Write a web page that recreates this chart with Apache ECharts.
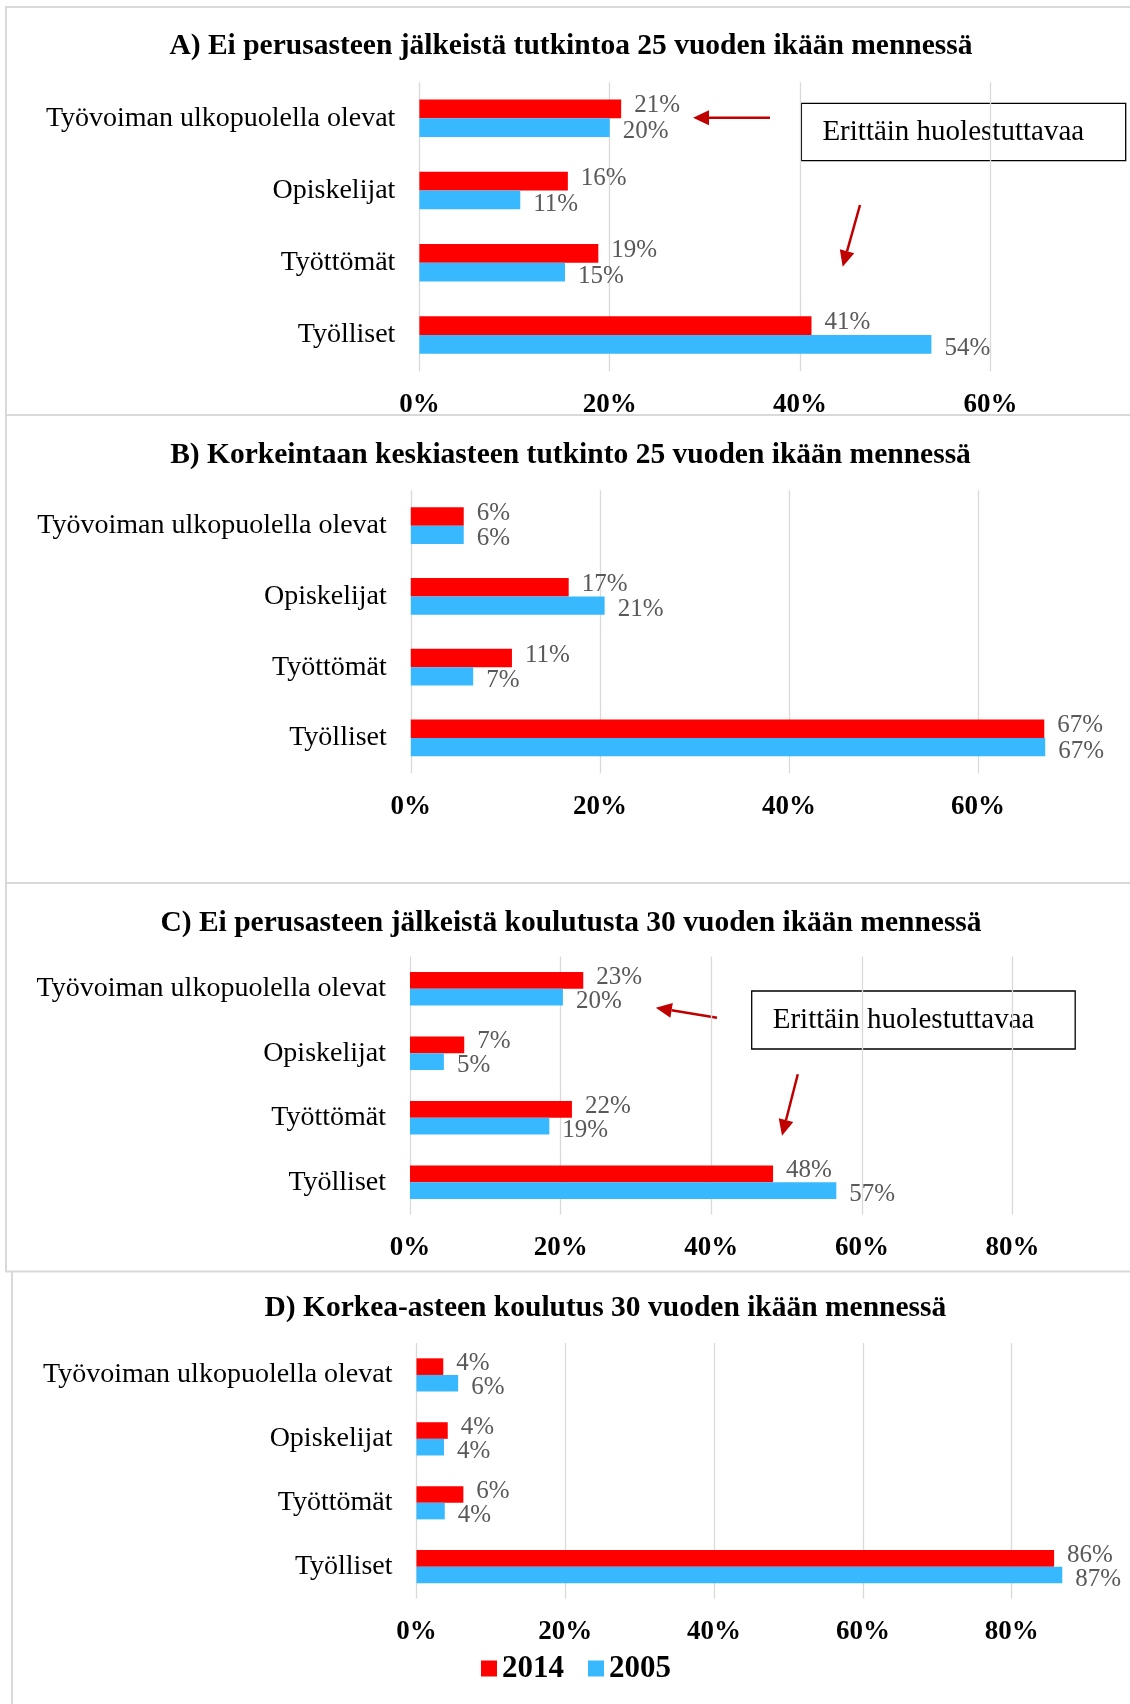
<!DOCTYPE html>
<html>
<head>
<meta charset="utf-8">
<title>Koulutus ja pääasiallinen toiminta</title>
<script src="https://cdn.jsdelivr.net/npm/echarts@6/dist/echarts.min.js"></script>
<style>
  html, body { margin: 0; padding: 0; background: #fff; }
  #main { width: 1130px; height: 1704px; }
</style>
</head>
<body>
<div id="main"></div>
<script>
// luokat ja vuodet
var categories = ['Työvoiman ulkopuolella olevat', 'Opiskelijat', 'Työttömät', 'Työlliset'];
var years = ['2014', '2005'];

// A) Ei perusasteen jälkeistä tutkintoa 25 v
var a2014 = [21.2, 15.6, 18.8, 41.2];
var a2005 = [20.0, 10.6, 15.3, 53.8];
// B) Korkeintaan keskiasteen tutkinto 25 v
var b2014 = [5.6, 16.7, 10.7, 67.0];
var b2005 = [5.6, 20.5, 6.6, 67.1];
// C) Ei perusasteen jälkeistä koulutusta 30 v
var c2014 = [23.0, 7.2, 21.5, 48.2];
var c2005 = [20.3, 4.5, 18.5, 56.6];
// D) Korkea-asteen koulutus 30 v
var d2014 = [3.6, 4.2, 6.3, 85.7];
var d2005 = [5.6, 3.7, 3.8, 86.8];

var titles = [
  'A) Ei perusasteen jälkeistä tutkintoa 25 vuoden ikään mennessä',
  'B) Korkeintaan keskiasteen tutkinto 25 vuoden ikään mennessä',
  'C) Ei perusasteen jälkeistä koulutusta 30 vuoden ikään mennessä',
  'D) Korkea-asteen koulutus 30 vuoden ikään mennessä'
];
var axisMax = [60, 80, 80, 100];
var tickStep = 20;
var noteText = 'Erittäin huolestuttavaa';

var values2014 = [a2014, b2014, c2014, d2014];
var values2005 = [a2005, b2005, c2005, d2005];

var FONT = "'Liberation Serif', 'Times New Roman', serif";
var RED = '#FF0000', BLUE = '#38B9FF', ARROW = '#C00000', BORDER = '#d9d9d9';

// paneelien sijainnit (px); B ja D jatkuvat kuvan oikean reunan yli
var boxes = [
  { left: 419.4, top: 82.2, width: 571, height: 289, tx: 571, ty: 46.7, lastLabel: true },
  { left: 410.8, top: 490.3, width: 756.4, height: 283, tx: 570.5, ty: 455, lastLabel: false },
  { left: 410, top: 956.5, width: 602.6, height: 258, tx: 571, ty: 923.3, lastLabel: true },
  { left: 416.5, top: 1343, width: 744, height: 255.6, tx: 605.4, ty: 1308.3, lastLabel: false }
];

var myChart = echarts.init(document.getElementById('main'));

var grids = [], xAxes = [], yAxes = [], series = [];
boxes.forEach(function (b, i) {
  grids.push({ left: b.left, top: b.top, width: b.width, height: b.height, outerBoundsMode: 'none' });
  xAxes.push({
    type: 'value', gridIndex: i, min: 0, max: axisMax[i], interval: tickStep,
    axisLine: { show: false }, axisTick: { show: false },
    splitLine: { show: true, lineStyle: { color: BORDER, width: 1.3 } },
    axisLabel: { formatter: '{value}%', showMaxLabel: b.lastLabel, color: '#000', fontFamily: FONT, fontWeight: 'bold', fontSize: 27, margin: 20 }
  });
  yAxes.push({
    type: 'category', gridIndex: i, data: categories, inverse: true,
    axisLine: { show: false }, axisTick: { show: false },
    axisLabel: { color: '#000', fontFamily: FONT, fontSize: 28, margin: 24 }
  });
  [values2014[i], values2005[i]].forEach(function (vals, k) {
    series.push({
      name: years[k], type: 'bar', xAxisIndex: i, yAxisIndex: i, data: vals,
      barGap: '0%', barCategoryGap: '48%',
      itemStyle: { color: k === 0 ? RED : BLUE },
      label: {
        show: true, position: 'right', distance: 13, color: '#595959',
        offset: k === 0 ? [0, -3] : [0, 4],
        fontFamily: FONT, fontSize: 25,
        formatter: function (p) { return Math.round(p.value) + '%'; }
      }
    });
  });
});

function arrow(x1, y1, x2, y2) {
  var dx = x2 - x1, dy = y2 - y1, len = Math.sqrt(dx * dx + dy * dy);
  var ux = dx / len, uy = dy / len, head = 16, hw = 7.5;
  var bx = x2 - ux * head, by = y2 - uy * head;
  return [
    { type: 'line', shape: { x1: x1, y1: y1, x2: bx, y2: by }, style: { stroke: ARROW, lineWidth: 2.5 } },
    { type: 'polygon', shape: { points: [[x2, y2], [bx - uy * hw, by + ux * hw], [bx + uy * hw, by - ux * hw]] }, style: { fill: ARROW } }
  ];
}
function hline(x1, x2, y) {
  return { type: 'line', shape: { x1: x1, y1: y, x2: x2, y2: y }, style: { stroke: BORDER, lineWidth: 2 } };
}
function vline(x, y1, y2) {
  return { type: 'line', shape: { x1: x, y1: y1, x2: x, y2: y2 }, style: { stroke: BORDER, lineWidth: 2 } };
}
function note(x, y, w, h) {
  return [
    { type: 'rect', shape: { x: x, y: y, width: w, height: h }, style: { fill: '#fff', stroke: '#000', lineWidth: 1.3 } },
    { type: 'text', x: x + 21, y: y + h / 2, style: { text: noteText, font: '29px ' + FONT, fill: '#000', verticalAlign: 'middle' } }
  ];
}

var graphics = [
  hline(5, 1130, 7), hline(5, 1130, 415), hline(5, 1130, 883), hline(5, 1130, 1271.5),
  vline(6, 7, 1271.5), vline(12, 1271.5, 1704)
];
boxes.forEach(function (b, i) {
  graphics.push({ type: 'text', x: b.tx, y: b.ty,
    style: { text: titles[i], font: 'bold 29.5px ' + FONT, fill: '#000', align: 'center', verticalAlign: 'middle' } });
});
graphics = graphics
  .concat(note(801.4, 103.3, 324.3, 57.4))
  .concat(arrow(770, 117.7, 693, 117.7))
  .concat(arrow(860, 205, 842.7, 266.7))
  .concat(note(751.7, 991, 323.5, 58))
  .concat(arrow(717, 1017.7, 655.8, 1007.7))
  .concat(arrow(797.8, 1074.3, 782, 1135.7));

var option = {
  backgroundColor: '#fff',
  animation: false,
  legend: {
    data: years, left: 481, top: 1653, itemWidth: 16, itemHeight: 16, itemGap: 24, padding: 0,
    icon: 'rect',
    textStyle: { color: '#000', fontFamily: FONT, fontWeight: 'bold', fontSize: 31 }
  },
  grid: grids,
  xAxis: xAxes,
  yAxis: yAxes,
  series: series,
  graphic: { elements: graphics }
};

myChart.setOption(option);
window.addEventListener('resize', function () {
  myChart.resize();
});
</script>
</body>
</html>
